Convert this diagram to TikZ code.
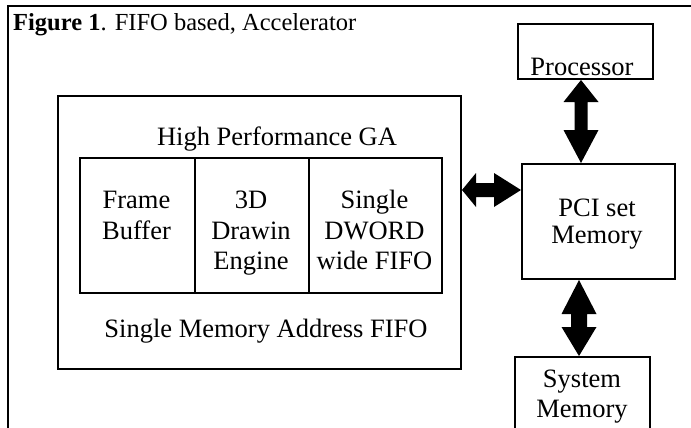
\documentclass[tikz,border=0pt]{standalone}
\usepackage{fontspec}
\setmainfont{Liberation Serif}
\usetikzlibrary{calc}

% vertical double-headed block arrow between two points on one x
% #1 top point, #2 bottom point, #3 head half width, #4 shaft half width,
% #5 top head length, #6 bottom head length
\newcommand\vdblarrow[6]{%
  \fill let \p1=(#1), \p2=(#2) in
    (\x1,\y1) -- (\x1+#3,\y1-#5) -- (\x1+#4,\y1-#5) -- (\x1+#4,\y2+#6)
    -- (\x1+#3,\y2+#6) -- (\x1,\y2) -- (\x1-#3,\y2+#6) -- (\x1-#4,\y2+#6)
    -- (\x1-#4,\y1-#5) -- (\x1-#3,\y1-#5) -- cycle;}
% horizontal double-headed block arrow between two points on one y
\newcommand\hdblarrow[6]{%
  \fill let \p1=(#1), \p2=(#2) in
    (\x1,\y1) -- (\x1+#5,\y1+#3) -- (\x1+#5,\y1+#4) -- (\x2-#6,\y1+#4)
    -- (\x2-#6,\y1+#3) -- (\x2,\y1) -- (\x2-#6,\y1-#3) -- (\x2-#6,\y1-#4)
    -- (\x1+#5,\y1-#4) -- (\x1+#5,\y1-#3) -- cycle;}

\tikzset{
  box/.style={draw, line width=2pt, inner sep=0pt, anchor=north west},
  lbl/.style={font=\fontsize{26.5}{30}\selectfont, inner sep=0pt, anchor=base},
  ttl/.style={font=\fontsize{24.5}{28}\selectfont, inner sep=0pt, anchor=base west},
}

\begin{document}
\begin{tikzpicture}[x=1pt,y=-1pt]
  \useasboundingbox (0,0) rectangle (691,428);
  \clip (0,0) rectangle (691,428);

  % page frame (left and top edges)
  \draw[line width=2.5pt] (8,430) -- (8,6) -- (695,6);

  % caption
  \node[ttl] (title) at (13,31) {\textbf{Figure 1}. FIFO based, Accelerator};

  % graphics accelerator
  \node[box, minimum width=403pt, minimum height=273pt] (ga) at (57,95) {};
  \node[lbl] (gat) at (277,145) {High Performance GA};
  \node[box, minimum width=115pt, minimum height=135pt] (fb) at (79,157) {};
  \node[box, minimum width=114pt, minimum height=135pt] (de) at (194,157) {};
  \node[box, minimum width=133pt, minimum height=135pt, line width=2.4pt] (df) at (308,157) {};

  \node[lbl] (fbA) at (136.5,208) {Frame};
  \node[lbl] (fbB) at (136.5,239) {Buffer};
  \node[lbl] (deA) at (251,208) {3D};
  \node[lbl] (deB) at (251,239) {Drawin};
  \node[lbl] (deC) at (251,269) {Engine};
  \node[lbl] (dfA) at (374.5,208) {Single};
  \node[lbl] (dfB) at (374.5,239) {DWORD};
  \node[lbl] (dfC) at (374.5,269) {wide FIFO};
  \node[lbl] (smaf) at (266,337) {Single Memory Address FIFO};

  % processor
  \node[box, minimum width=135pt, minimum height=55pt] (proc) at (517,23) {};
  \node[lbl] (proct) at (582,75) {Processor};

  % PCI set memory
  \node[box, minimum width=153pt, minimum height=115pt] (pci) at (521,163) {};
  \node[lbl] (pciA) at (597,216) {PCI set};
  \node[lbl] (pciB) at (597,243) {Memory};

  % system memory
  \node[box, minimum width=135pt, minimum height=90pt] (sys) at (514,356) {};
  \node[lbl] (sysA) at (582,387) {System};
  \node[lbl] (sysB) at (582,417) {Memory};

  % bus connections
  \vdblarrow{581,0 |- proc.south}{581,0 |- pci.north}{17.5pt}{6.5pt}{22pt}{33pt}
  \vdblarrow{579,0 |- pci.south}{579,0 |- sys.north}{17.5pt}{8pt}{34pt}{29pt}
  \hdblarrow{ga.east |- 0,190}{pci.west |- 0,190}{17pt}{7pt}{14pt}{27pt}
\end{tikzpicture}
\end{document}
